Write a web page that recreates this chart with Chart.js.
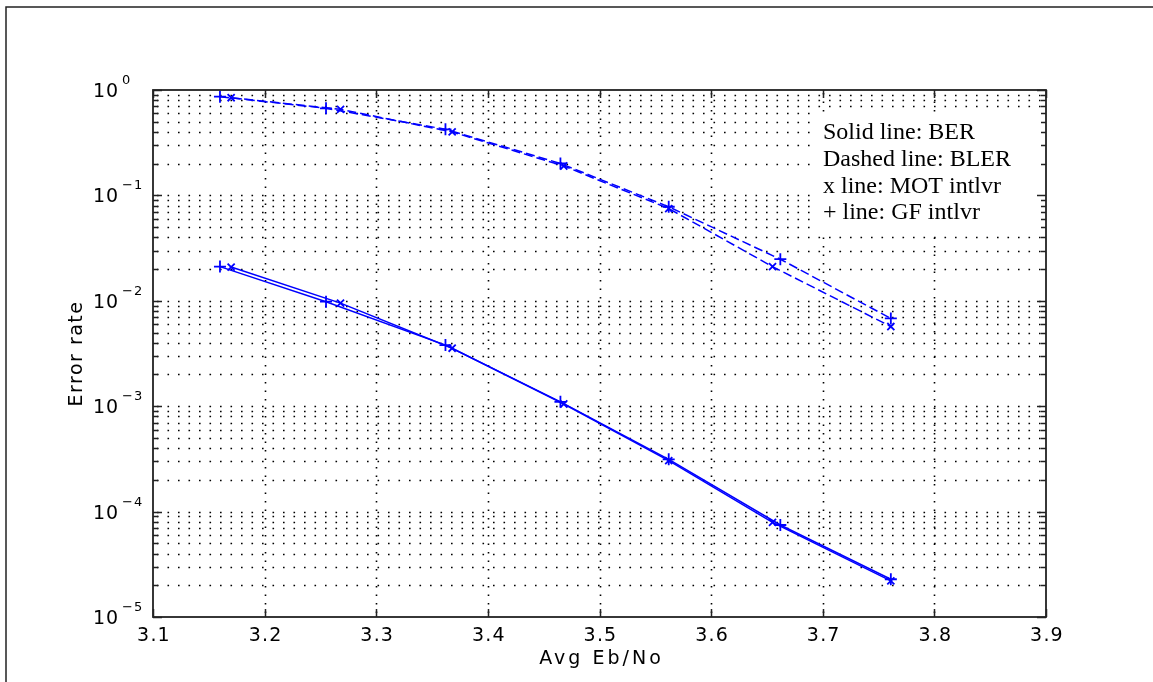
<!DOCTYPE html>
<html>
<head>
<meta charset="utf-8">
<title>Error rate vs Avg Eb/No</title>
<script src="https://cdn.jsdelivr.net/npm/chart.js@4.4.1/dist/chart.umd.min.js"></script>
<style>
  html, body { margin: 0; padding: 0; background: #fff; }
  #wrap { width: 1153px; height: 682px; }
</style>
</head>
<body>
<div id="wrap"><canvas id="myChart" width="1153" height="682"></canvas></div>
<script>
// x axis ticks and y decades (exponents of 10)
const xTicks = [3.1, 3.2, 3.3, 3.4, 3.5, 3.6, 3.7, 3.8, 3.9];
const yDecades = [0, -1, -2, -3, -4, -5];

// Eb/No points for each interleaver
const gfEbNo  = [3.16, 3.255, 3.362, 3.465, 3.562, 3.662, 3.761];
const motEbNo = [3.17, 3.268, 3.368, 3.468, 3.562, 3.655, 3.761];

// block error rate (dashed) and bit error rate (solid)
const blerGF  = [0.864, 0.67, 0.424, 0.201, 0.078, 0.0248, 0.0068];
const blerMOT = [0.845, 0.656, 0.40, 0.19, 0.075, 0.0211, 0.0057];
const berGF   = [0.0211, 0.0098, 0.0038, 0.0011, 0.000313, 0.0000746, 0.0000228];
const berMOT  = [0.0209, 0.0095, 0.00355, 0.00105, 0.000305, 0.000079, 0.000022];

const notes = ["Solid line: BER", "Dashed line: BLER", "x line: MOT intlvr", "+ line: GF intlvr"];

const BLUE = "#0000ff";

function pts(xs, ys) {
  return xs.map((x, i) => ({ x: x, y: ys[i] }));
}

// every minor value of the log axis: 1..9 x 10^d
const yGrid = [];
for (let d = -5; d < 0; d++) {
  for (let m = 1; m <= 9; m++) yGrid.push(m * Math.pow(10, d));
}
yGrid.push(1);

function series(label, xs, ys, style, dashed, r) {
  return {
    label: label,
    data: pts(xs, ys),
    borderColor: BLUE,
    backgroundColor: BLUE,
    borderWidth: 1.5,
    borderDash: dashed ? [9, 4] : [],
    pointStyle: style,
    pointRadius: r,
    pointBorderWidth: 1.8,
    pointBorderColor: BLUE,
    fill: false,
    tension: 0
  };
}

// matlab-like axes: dotted grid, inward ticks, box, labels and the note box
const matlabAxes = {
  id: "matlabAxes",
  beforeDraw(chart) {
    const ctx = chart.ctx;
    ctx.save();
    ctx.fillStyle = "#fff";
    ctx.fillRect(0, 0, chart.width, chart.height);
    // figure frame
    ctx.strokeStyle = "#222";
    ctx.lineWidth = 1.5;
    ctx.beginPath();
    ctx.moveTo(6, chart.height);
    ctx.lineTo(6, 7);
    ctx.lineTo(chart.width, 7);
    ctx.stroke();
    ctx.restore();
  },
  beforeDatasetsDraw(chart) {
    const ctx = chart.ctx;
    const a = chart.chartArea;
    const xs = chart.scales.x, ys = chart.scales.y;
    ctx.save();
    ctx.strokeStyle = "#000";
    ctx.lineWidth = 1.6;
    ctx.setLineDash([1.6, 8.9]);
    yGrid.forEach(v => {
      if (v <= 1e-5 || v >= 1) return;
      const py = Math.round(ys.getPixelForValue(v)) + 0.5;
      ctx.beginPath();
      ctx.moveTo(a.left + 4, py);
      ctx.lineTo(a.right, py);
      ctx.stroke();
    });
    ctx.setLineDash([1.6, 6.9]);
    xTicks.slice(1, -1).forEach(v => {
      const px = Math.round(xs.getPixelForValue(v)) + 0.5;
      ctx.beginPath();
      ctx.moveTo(px, a.bottom - 4);
      ctx.lineTo(px, a.top);
      ctx.stroke();
    });
    ctx.restore();
  },
  afterDatasetsDraw(chart) {
    const ctx = chart.ctx;
    const a = chart.chartArea;
    const xs = chart.scales.x, ys = chart.scales.y;
    ctx.save();

    // note box over the grid
    ctx.fillStyle = "#fff";
    ctx.fillRect(812, 112, a.right - 814, 120);
    ctx.fillStyle = "#000";
    ctx.font = '24px "Liberation Serif", "Times New Roman", serif';
    ctx.textAlign = "left";
    ctx.textBaseline = "alphabetic";
    notes.forEach((t, i) => ctx.fillText(t, 823, 139 + i * 26.8));

    // axes box
    ctx.strokeStyle = "#222";
    ctx.lineWidth = 1.8;
    ctx.strokeRect(a.left, a.top, a.right - a.left, a.bottom - a.top);

    // inward ticks
    ctx.lineWidth = 1.5;
    ctx.beginPath();
    yGrid.forEach(v => {
      const py = Math.round(ys.getPixelForValue(v)) + 0.5;
      const major = Math.abs(Math.log10(v) - Math.round(Math.log10(v))) < 1e-9;
      const len = major ? 9 : 5;
      ctx.moveTo(a.left, py); ctx.lineTo(a.left + len, py);
      ctx.moveTo(a.right, py); ctx.lineTo(a.right - len, py);
    });
    xTicks.forEach(v => {
      const px = Math.round(xs.getPixelForValue(v)) + 0.5;
      ctx.moveTo(px, a.bottom); ctx.lineTo(px, a.bottom - 8);
      ctx.moveTo(px, a.top); ctx.lineTo(px, a.top + 8);
    });
    ctx.stroke();

    // x tick labels
    ctx.fillStyle = "#000";
    ctx.font = '19px "DejaVu Sans", sans-serif';
    ctx.letterSpacing = "1.2px";
    ctx.textAlign = "center";
    xTicks.forEach(v => {
      ctx.fillText(v.toFixed(1), xs.getPixelForValue(v) + 1, 641);
    });

    // y tick labels: 10 with a raised exponent
    yDecades.forEach(d => {
      const py = ys.getPixelForValue(Math.pow(10, d));
      ctx.textAlign = "left";
      ctx.font = '19px "DejaVu Sans", sans-serif';
      ctx.letterSpacing = "1px";
      ctx.fillText("10", 93, py + 7);
      ctx.font = '13px "DejaVu Sans", sans-serif';
      ctx.letterSpacing = "1px";
      ctx.fillText(d === 0 ? "0" : "\u2212" + (-d), 122, py - 6);
    });

    // axis titles
    ctx.font = '19px "DejaVu Sans", sans-serif';
    ctx.letterSpacing = "3px";
    ctx.textAlign = "center";
    ctx.fillText("Avg Eb/No", (a.left + a.right) / 2 + 2, 664);

    ctx.letterSpacing = "1.5px";
    ctx.translate(82, (a.top + a.bottom) / 2);
    ctx.rotate(-Math.PI / 2);
    ctx.fillText("Error rate", 0, 0);
    ctx.restore();
  }
};

const ctx = document.getElementById("myChart");
new Chart(ctx, {
  type: "line",
  data: {
    datasets: [
      series("BLER MOT", motEbNo, blerMOT, "crossRot", true, 5),
      series("BLER GF", gfEbNo, blerGF, "cross", true, 6),
      series("BER MOT", motEbNo, berMOT, "crossRot", false, 5),
      series("BER GF", gfEbNo, berGF, "cross", false, 6)
    ]
  },
  options: {
    responsive: false,
    animation: false,
    devicePixelRatio: 1,
    layout: { padding: { left: 153, right: 107, top: 90, bottom: 65 } },
    plugins: {
      legend: { display: false },
      tooltip: { enabled: false }
    },
    scales: {
      x: {
        type: "linear",
        min: 3.1,
        max: 3.9,
        ticks: { display: false },
        grid: { display: false },
        border: { display: false },
        afterFit(s) { s.height = 0; }
      },
      y: {
        type: "logarithmic",
        min: 1e-5,
        max: 1,
        ticks: { display: false },
        grid: { display: false },
        border: { display: false },
        afterFit(s) { s.width = 0; }
      }
    }
  },
  plugins: [matlabAxes]
});
</script>
</body>
</html>
